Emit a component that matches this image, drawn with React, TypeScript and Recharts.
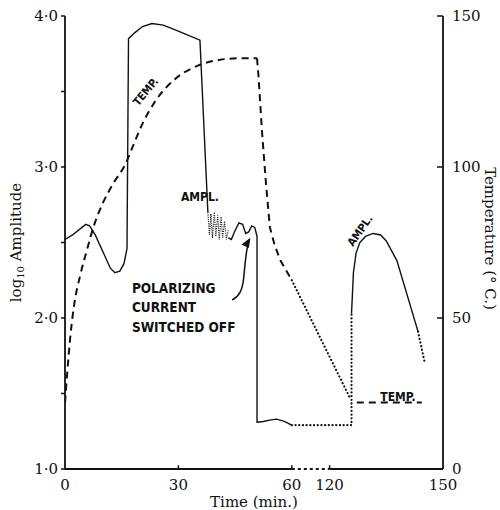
import React from "react";
import { LineChart, Line, XAxis, YAxis, ReferenceLine, ReferenceDot } from "recharts";

type Pt = [number, number];

// time (min.) -> log10 amplitude
const ampRise: Pt[] = [
  [0, 2.52], [2, 2.55], [4, 2.59], [5.5, 2.62], [6.5, 2.61], [8, 2.55], [10, 2.44],
  [12, 2.33], [13.2, 2.3], [14.5, 2.31], [15.6, 2.36], [16.4, 2.46], [16.8, 3.85],
  [18.5, 3.89], [20.5, 3.93], [23, 3.95], [26, 3.94], [30, 3.9], [35.7, 3.84], [37.8, 2.7],
];
const ampNoise: Pt[] = [
  [37.8, 2.7], [38.2, 2.55], [38.6, 2.69], [39.0, 2.53], [39.5, 2.7], [39.9, 2.54],
  [40.4, 2.68], [40.8, 2.52], [41.3, 2.67], [41.7, 2.53], [42.2, 2.64], [42.7, 2.52], [43.2, 2.58],
];
const ampFall: Pt[] = [
  [43.2, 2.53], [44, 2.52], [45, 2.58], [46, 2.63], [47, 2.62], [47.8, 2.56], [48.6, 2.57],
  [49.4, 2.61], [50.2, 2.6], [50.8, 2.54], [50.8, 1.31], [52.5, 1.315], [54.5, 1.325],
  [56, 1.33], [58, 1.315], [60, 1.29],
];
const ampLowDots: Pt[] = [[60, 1.29], [125.8, 1.29], [125.8, 2.03]];
const ampRecover: Pt[] = [
  [125.8, 2.03], [126.3, 2.3], [127, 2.43], [128, 2.5], [129.5, 2.54], [131.5, 2.56],
  [133.5, 2.55], [135, 2.51], [137.8, 2.38], [143.4, 1.91],
];
const ampTailDots: Pt[] = [[143.4, 1.91], [145.2, 1.7]];

// time (min.) -> temperature (deg C)
const tempRise: Pt[] = [
  [0, 22], [0.6, 32], [1.5, 45], [2.5, 55], [4, 64], [5.8, 72.5], [7.5, 80], [10, 88],
  [13, 95], [16, 101], [18, 107], [20, 113], [24, 122], [29, 129], [35, 133.5],
  [41, 135.5], [46, 136], [50.8, 136],
];
const tempFall: Pt[] = [
  [50.8, 136], [51.2, 130], [52.1, 112], [53.2, 94], [54.2, 80], [55.5, 74], [57, 69], [60, 62.5],
];
const tempCoolDots: Pt[] = [[60, 62.5], [125.4, 23.5]];
const tempHold: Pt[] = [[127.2, 22], [144.4, 22]];

// annotation arrow (time, log10 amplitude)
const arrowPath: Pt[] = [[44.2, 2.12], [46.3, 2.17], [47.2, 2.25], [47.6, 2.35], [48.1, 2.45], [48.8, 2.52]];

const timeTicks = [0, 30, 60, 120, 150];
const ampTicks = [1, 1.5, 2, 2.5, 3, 3.5, 4];
const tempTicks = [0, 50, 100, 150];

// the time axis is broken between 60 and 120 min
const toAxis = (t: number) => (t <= 60 ? t : t - 50);
const fromAxis = (u: number) => (u <= 60 ? u : u + 50);
const pts = (arr: Pt[]) => arr.map(([t, v]) => ({ u: toAxis(t), v }));

const INK = "#111";
const SERIF = "'DejaVu Serif', 'Liberation Serif', serif";
const HAND = "'DejaVu Sans Condensed', 'Liberation Sans Narrow', 'DejaVu Sans', sans-serif";

const dotted = { strokeDasharray: "0.1 3.6", strokeLinecap: "round" as const, strokeWidth: 2.2 };

const note = (
  key: string, t: number, a: number, lines: string[],
  opts: { size?: number; angle?: number; anchor?: "start" | "middle" | "end"; lh?: number } = {}
) => {
  const { size = 12, angle = 0, anchor = "middle", lh = 19 } = opts;
  return (
    <ReferenceDot
      key={key}
      yAxisId="amp"
      x={toAxis(t)}
      y={a}
      r={1}
      shape={(p: any) => (
        <text
          x={p.cx}
          y={p.cy}
          textAnchor={anchor}
          dominantBaseline="central"
          fontFamily={HAND}
          fontWeight="bold"
          fontSize={size}
          fill={INK}
          transform={angle ? `rotate(${angle} ${p.cx} ${p.cy})` : undefined}
        >
          {lines.map((l, i) => (
            <tspan key={i} x={p.cx} dy={i === 0 ? 0 : lh}>{l}</tspan>
          ))}
        </text>
      )}
    />
  );
};

const RightTick = (p: any) => (
  <g>
    <line x1={p.x - 15} x2={p.x - 9} y1={p.y} y2={p.y} stroke={INK} strokeWidth={1.5} />
    <text x={p.x} y={p.y} dominantBaseline="central" fontFamily={SERIF} fontSize={15} fill={INK}>
      {p.payload.value}
    </text>
  </g>
);

const arrowDot = (p: any) => {
  if (p.index !== arrowPath.length - 1) return <g key={p.index} />;
  const { cx, cy } = p;
  return (
    <polygon
      key={p.index}
      points={`${cx},${cy - 2} ${cx - 5},${cy + 8} ${cx + 3},${cy + 8}`}
      transform={`rotate(25 ${cx} ${cy})`}
      fill={INK}
    />
  );
};

const App: React.FC = () => {
  return (
    <div style={{ position: "absolute", left: 0, top: 0, background: "#fff" }}>
      <LineChart width={500} height={510} margin={{ top: 16, right: 10, bottom: 1, left: 8 }}>
        <XAxis
          type="number"
          dataKey="u"
          domain={[0, 100]}
          ticks={timeTicks.map(toAxis)}
          tickFormatter={(u: number) => String(fromAxis(u))}
          axisLine={false}
          tickLine={false}
          tickSize={0}
          tickMargin={10}
          height={40}
          tick={{ fontFamily: SERIF, fontSize: 15, fill: INK }}
          allowDataOverflow
          label={{
            content: (p: any) => (
              <text
                x={p.viewBox.x + p.viewBox.width / 2}
                y={p.viewBox.y + 38}
                textAnchor="middle"
                fontFamily={SERIF}
                fontSize={15}
                fill={INK}
              >
                Time (min.)
              </text>
            ),
          }}
        />
        <YAxis
          yAxisId="amp"
          type="number"
          domain={[1, 4]}
          ticks={ampTicks}
          tickFormatter={(v: number) => (Number.isInteger(v) ? `${v}·0` : "")}
          width={57}
          tickSize={4}
          tickMargin={3}
          axisLine={{ stroke: INK, strokeWidth: 1.8 }}
          tickLine={{ stroke: INK, strokeWidth: 1.5 }}
          tick={{ fontFamily: SERIF, fontSize: 15, fill: INK }}
          allowDataOverflow
          label={{
            content: (p: any) => {
              const x = p.viewBox.x + 8;
              const y = p.viewBox.y + p.viewBox.height / 2;
              return (
                <text
                  x={x}
                  y={y}
                  textAnchor="middle"
                  dominantBaseline="central"
                  fontFamily={SERIF}
                  fontSize={15}
                  fill={INK}
                  transform={`rotate(-90 ${x} ${y})`}
                >
                  log<tspan fontSize={10} dy={4}>10</tspan>
                  <tspan dy={-4}> Amplitude</tspan>
                </text>
              );
            },
          }}
        />
        <YAxis
          yAxisId="temp"
          orientation="right"
          type="number"
          domain={[0, 150]}
          ticks={tempTicks}
          width={47}
          tickSize={0}
          tickMargin={9}
          tickLine={false}
          axisLine={{ stroke: INK, strokeWidth: 1.8 }}
          tick={<RightTick />}
          allowDataOverflow
          label={{
            content: (p: any) => {
              const x = p.viewBox.x + p.viewBox.width;
              const y = p.viewBox.y + p.viewBox.height / 2 - 4;
              return (
                <text
                  x={x}
                  y={y}
                  textAnchor="middle"
                  dominantBaseline="central"
                  fontFamily={SERIF}
                  fontSize={15}
                  fill={INK}
                  transform={`rotate(90 ${x} ${y})`}
                >
                  Temperature (° C.)
                </text>
              );
            },
          }}
        />

        {/* broken time axis */}
        <ReferenceLine yAxisId="amp" segment={[{ x: 0, y: 1 }, { x: 60, y: 1 }]} stroke={INK} strokeWidth={1.8} />
        <ReferenceLine yAxisId="amp" segment={[{ x: 60, y: 1 }, { x: 70, y: 1 }]} stroke={INK} strokeWidth={1.8} strokeDasharray="3 3" />
        <ReferenceLine yAxisId="amp" segment={[{ x: 70, y: 1 }, { x: 100, y: 1 }]} stroke={INK} strokeWidth={1.8} />
        {timeTicks.slice(1, 4).map((t) => (
          <ReferenceLine key={t} yAxisId="amp" segment={[{ x: toAxis(t), y: 1 }, { x: toAxis(t), y: 1.025 }]} stroke={INK} strokeWidth={1.5} />
        ))}

        {/* amplitude */}
        <Line yAxisId="amp" data={pts(ampRise)} dataKey="v" type="linear" stroke={INK} strokeWidth={1.4} dot={false} activeDot={false} isAnimationActive={false} />
        <Line yAxisId="amp" data={pts(ampNoise)} dataKey="v" type="linear" stroke={INK} strokeWidth={1.2} strokeDasharray="1 1.2" dot={false} activeDot={false} isAnimationActive={false} />
        <Line yAxisId="amp" data={pts(ampFall)} dataKey="v" type="linear" stroke={INK} strokeWidth={1.4} dot={false} activeDot={false} isAnimationActive={false} />
        <Line yAxisId="amp" data={pts(ampLowDots)} dataKey="v" type="linear" stroke={INK} {...dotted} dot={false} activeDot={false} isAnimationActive={false} />
        <Line yAxisId="amp" data={pts(ampRecover)} dataKey="v" type="linear" stroke={INK} strokeWidth={1.4} dot={false} activeDot={false} isAnimationActive={false} />
        <Line yAxisId="amp" data={pts(ampTailDots)} dataKey="v" type="linear" stroke={INK} {...dotted} dot={false} activeDot={false} isAnimationActive={false} />

        {/* temperature */}
        <Line yAxisId="temp" data={pts(tempRise)} dataKey="v" type="monotone" stroke={INK} strokeWidth={2} strokeDasharray="7 5" dot={false} activeDot={false} isAnimationActive={false} />
        <Line yAxisId="temp" data={pts(tempFall)} dataKey="v" type="linear" stroke={INK} strokeWidth={2} strokeDasharray="7 5" dot={false} activeDot={false} isAnimationActive={false} />
        <Line yAxisId="temp" data={pts(tempCoolDots)} dataKey="v" type="linear" stroke={INK} {...dotted} dot={false} activeDot={false} isAnimationActive={false} />
        <Line yAxisId="temp" data={pts(tempHold)} dataKey="v" type="linear" stroke={INK} strokeWidth={2} strokeDasharray="7 5" dot={false} activeDot={false} isAnimationActive={false} />

        {/* arrow */}
        <Line yAxisId="amp" data={pts(arrowPath)} dataKey="v" type="monotone" stroke={INK} strokeWidth={1.5} dot={arrowDot} activeDot={false} isAnimationActive={false} />

        {note("tempTop", 21.3, 3.5, ["TEMP."], { size: 11, angle: -50 })}
        {note("amplMid", 35.7, 2.8, ["AMPL."], { size: 12 })}
        {note("amplRight", 128, 2.58, ["AMPL."], { size: 11, angle: -55 })}
        {note("tempRight", 138.1, 1.48, ["TEMP."], { size: 12 })}
        {note("polar", 17.7, 2.2, ["POLARIZING", "CURRENT", "SWITCHED OFF"], { size: 13.5, anchor: "start", lh: 19.5 })}
      </LineChart>
    </div>
  );
};

export default App;
